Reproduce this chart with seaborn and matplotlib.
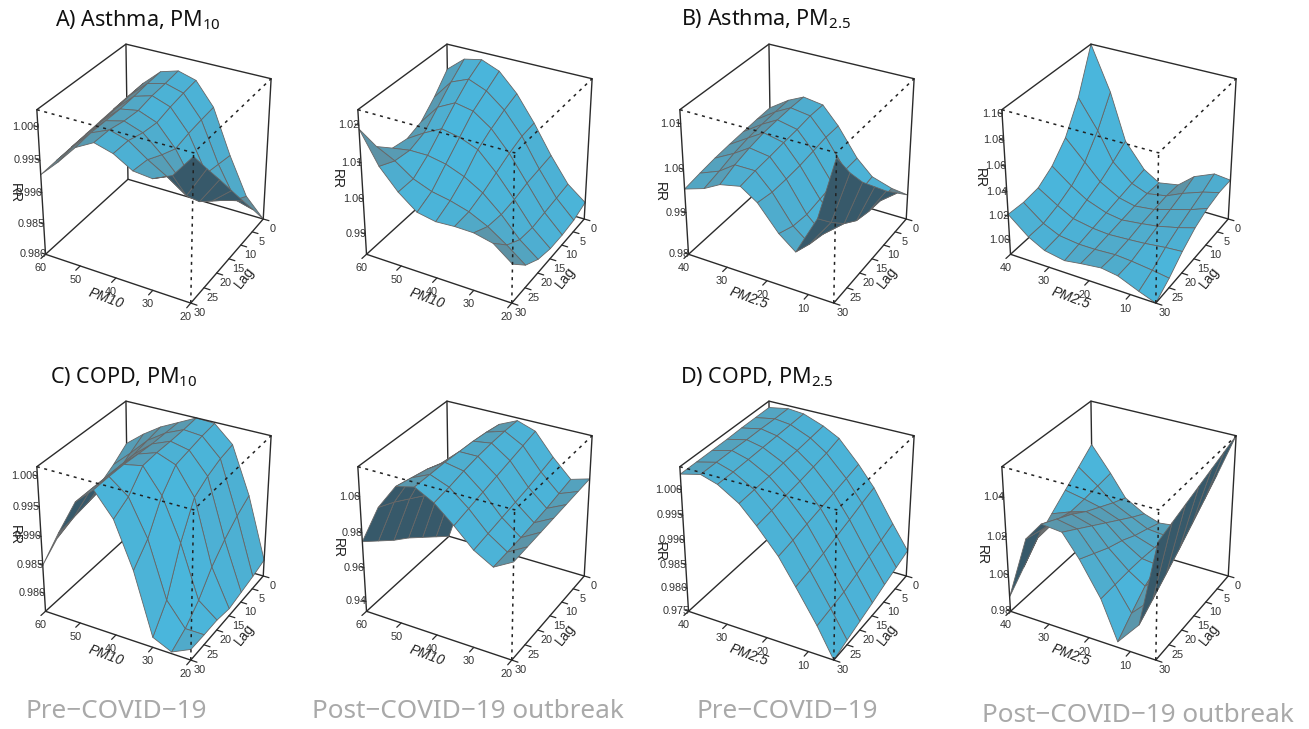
import numpy as np
import matplotlib
matplotlib.use('Agg')
import matplotlib.pyplot as plt
import matplotlib.colors as mcolors
from mpl_toolkits.mplot3d import proj3d
import seaborn as sns

# eixos dos 8 paineis
lags = [0, 5, 10, 15, 20, 25, 30]
pm10 = [20, 25, 30, 35, 40, 45, 50, 55, 60]
pm25 = [4, 8, 13, 17, 22, 26, 31, 35, 40]

lag_ticks = [0, 5, 10, 15, 20, 25, 30]
pm10_ticks = [60, 50, 40, 30, 20]
pm25_ticks = [40, 30, 20, 10]

# RR: linhas = lag, colunas = PM crescente
asthma_pm10_pre = [
    [.9800, .9830, .9890, .9960, .9995, 1.0003, .9995, .9970, .9940],
    [.9837, .9845, .9895, .9958, .9992, 1.0000, .9993, .9968, .9938],
    [.9873, .9865, .9900, .9955, .9988, .9998, .9990, .9965, .9936],
    [.9910, .9885, .9903, .9950, .9982, .9993, .9988, .9963, .9934],
    [.9947, .9905, .9930, .9960, .9985, .9995, .9988, .9962, .9932],
    [.9983, .9935, .9955, .9972, .9992, 1.0000, .9988, .9960, .9930],
    [1.0020, .9985, .9972, .9975, .9992, 1.0000, .9985, .9955, .9928],
]
asthma_pm10_post = [
    [.9890, .9930, 1.0000, 1.0080, 1.0150, 1.0200, 1.0220, 1.0210, 1.0170],
    [.9875, .9925, .9995, 1.0075, 1.0135, 1.0175, 1.0195, 1.0175, 1.0120],
    [.9870, .9920, .9990, 1.0060, 1.0115, 1.0150, 1.0160, 1.0135, 1.0080],
    [.9870, .9915, .9980, 1.0040, 1.0090, 1.0110, 1.0120, 1.0095, 1.0065],
    [.9880, .9920, .9975, 1.0020, 1.0050, 1.0070, 1.0080, 1.0080, 1.0072],
    [.9905, .9945, .9980, 1.0005, 1.0020, 1.0030, 1.0050, 1.0085, 1.0110],
    [.9950, .9990, 1.0002, 1.0003, 1.0000, 1.0010, 1.0050, 1.0105, 1.0190],
]
asthma_pm25_pre = [
    [.9860, .9865, .9880, .9915, .9980, 1.0020, 1.0027, 1.0010, .9980],
    [.9895, .9865, .9875, .9915, .9980, 1.0020, 1.0027, 1.0008, .9978],
    [.9930, .9870, .9870, .9910, .9975, 1.0015, 1.0025, 1.0005, .9975],
    [.9970, .9880, .9865, .9905, .9970, 1.0012, 1.0022, 1.0000, .9972],
    [1.0010, .9905, .9865, .9900, .9968, 1.0008, 1.0015, .9992, .9968],
    [1.0060, .9940, .9875, .9905, .9968, 1.0005, 1.0005, .9980, .9962],
    [1.0120, .9980, .9890, .9920, .9975, 1.0000, .9990, .9970, .9955],
]
asthma_pm25_post = [
    [1.0215, 1.0230, 1.0160, 1.0050, 1.0020, 1.0100, 1.0300, 1.0680, 1.1030],
    [1.0215, 1.0180, 1.0120, 1.0060, 1.0030, 1.0080, 1.0220, 1.0450, 1.0680],
    [1.0190, 1.0140, 1.0090, 1.0050, 1.0030, 1.0060, 1.0150, 1.0280, 1.0440],
    [1.0140, 1.0100, 1.0060, 1.0040, 1.0020, 1.0040, 1.0100, 1.0180, 1.0300],
    [1.0060, 1.0050, 1.0030, 1.0020, 1.0010, 1.0020, 1.0050, 1.0120, 1.0220],
    [.9960, .9980, 1.0000, 1.0010, 1.0000, 1.0000, 1.0020, 1.0080, 1.0205],
    [.9880, .9930, 1.0000, 1.0020, 1.0000, .9980, 1.0010, 1.0080, 1.0215],
]
copd_pm10_pre = [
    [.9797, .9905, .9985, 1.0013, 1.0015, 1.0000, .9985, .9965, .9941],
    [.9790, .9890, .9980, 1.0010, 1.0013, 1.0000, .9980, .9950, .9922],
    [.9785, .9870, .9970, 1.0005, 1.0012, 1.0000, .9975, .9935, .9907],
    [.9780, .9845, .9955, 1.0000, 1.0012, 1.0002, .9975, .9930, .9905],
    [.9785, .9810, .9900, .9970, 1.0010, 1.0004, .9975, .9925, .9895],
    [.9785, .9785, .9825, .9920, .9980, 1.0004, .9975, .9920, .9875],
    [.9786, .9770, .9785, .9890, .9965, 1.0003, .9975, .9915, .9850],
]
copd_pm10_post = [
    [.9920, .9890, .9990, 1.0110, 1.0145, 1.0100, .9950, .9650, .9340],
    [.9915, .9875, .9970, 1.0090, 1.0145, 1.0115, .9980, .9715, .9410],
    [.9910, .9860, .9950, 1.0070, 1.0140, 1.0125, 1.0010, .9780, .9480],
    [.9905, .9850, .9935, 1.0050, 1.0130, 1.0130, 1.0040, .9830, .9550],
    [.9900, .9840, .9920, 1.0030, 1.0115, 1.0135, 1.0070, .9880, .9610],
    [.9895, .9835, .9905, 1.0010, 1.0095, 1.0135, 1.0090, .9930, .9680],
    [.9890, .9830, .9890, .9990, 1.0080, 1.0135, 1.0110, .9970, .9750],
]
copd_pm25_pre = [
    [.9806, .9855, .9920, .9960, 1.0003, 1.0020, 1.0035, 1.0038, 1.0031],
    [.9797, .9846, .9912, .9954, .9995, 1.0017, 1.0034, 1.0038, 1.0031],
    [.9788, .9838, .9903, .9948, .9990, 1.0014, 1.0033, 1.0039, 1.0031],
    [.9778, .9829, .9895, .9942, .9985, 1.0012, 1.0032, 1.0039, 1.0030],
    [.9769, .9820, .9887, .9936, .9981, 1.0009, 1.0031, 1.0040, 1.0030],
    [.9760, .9815, .9880, .9930, .9976, 1.0007, 1.0030, 1.0040, 1.0030],
    [.9750, .9810, .9875, .9925, .9972, 1.0005, 1.0030, 1.0040, 1.0030],
]
copd_pm25_post = [
    [1.0550, 1.0330, 1.0120, 1.0000, .9987, 1.0015, 1.0075, 1.0190, 1.0320],
    [1.0525, 1.0265, 1.0090, 1.0010, 1.0020, 1.0060, 1.0110, 1.0180, 1.0255],
    [1.0500, 1.0200, 1.0055, 1.0015, 1.0050, 1.0110, 1.0150, 1.0170, 1.0190],
    [1.0475, 1.0135, 1.0015, 1.0025, 1.0090, 1.0160, 1.0190, 1.0165, 1.0125],
    [1.0450, 1.0075, .9975, 1.0030, 1.0120, 1.0210, 1.0240, 1.0185, 1.0060],
    [1.0425, 1.0015, .9905, 1.0030, 1.0160, 1.0260, 1.0280, 1.0200, .9970],
    [1.0400, .9957, .9830, 1.0030, 1.0200, 1.0310, 1.0320, 1.0220, .9880],
]

# limites e ticks de RR de cada painel
asthma_pm10_pre_lim, asthma_pm10_pre_ticks = (.980, 1.0025), [.980, .985, .990, .995, 1.000]
asthma_pm10_post_lim, asthma_pm10_post_ticks = (.984, 1.024), [.99, 1.00, 1.01, 1.02]
asthma_pm25_pre_lim, asthma_pm25_pre_ticks = (.980, 1.013), [.98, .99, 1.00, 1.01]
asthma_pm25_post_lim, asthma_pm25_post_ticks = (.988, 1.103), [1.00, 1.02, 1.04, 1.06, 1.08, 1.10]
copd_pm10_pre_lim, copd_pm10_pre_ticks = (.9767, 1.0015), [.980, .985, .990, .995, 1.000]
copd_pm10_post_lim, copd_pm10_post_ticks = (.934, 1.016), [.94, .96, .98, 1.00]
copd_pm25_pre_lim, copd_pm25_pre_ticks = (.975, 1.0044), [.975, .980, .985, .990, .995, 1.000]
copd_pm25_post_lim, copd_pm25_post_ticks = (.980, 1.055), [.98, 1.00, 1.02, 1.04]

titles = ['A) Asthma, PM$_{\\mathregular{10}}$', 'B) Asthma, PM$_{\\mathregular{2.5}}$',
          'C) COPD, PM$_{\\mathregular{10}}$', 'D) COPD, PM$_{\\mathregular{2.5}}$']
periods = ['Pre\u2212COVID\u221219', 'Post\u2212COVID\u221219 outbreak',
           'Pre\u2212COVID\u221219', 'Post\u2212COVID\u221219 outbreak']

sns.set_theme(style='white')
plt.rcParams['font.family'] = ['Liberation Sans', 'DejaVu Sans']

W, H = 1309, 729
fig = plt.figure(figsize=(W / 100, H / 100), dpi=100, facecolor='white')

ELEV, AZIM = 31, -61
ASPECT = (1, 1, 1.0)
CYAN = mcolors.to_rgb('#4ab6dc')
GREY = mcolors.to_rgb('#6e6e6e')
DARK = mcolors.to_rgb('#37596a')
S = 360
ZOOM = 0.775
FOCAL = 0.6
PX = 0.72  # pixels para pontos


def cell_colors(x, y, z, xlim, ylim, zlim):
    # sombra de cada celula a partir da normal no espaco da caixa
    u = (np.asarray(x, float) - xlim[0]) / (xlim[1] - xlim[0])
    v = (np.asarray(y, float) - ylim[0]) / (ylim[1] - ylim[0])
    w = (np.asarray(z, float) - zlim[0]) / (zlim[1] - zlim[0]) * ASPECT[2]
    dzu = (w[:-1, 1:] + w[1:, 1:] - w[:-1, :-1] - w[1:, :-1]) / 2 / (u[1:] - u[:-1])
    dzv = ((w[1:, :-1] + w[1:, 1:] - w[:-1, :-1] - w[:-1, 1:]) / 2).T / (v[1:] - v[:-1])
    dzv = dzv.T
    n = np.dstack([-dzu, -dzv, np.ones_like(dzu)])
    n /= np.linalg.norm(n, axis=2, keepdims=True)
    e, a = np.radians(ELEV), np.radians(AZIM)
    view = np.array([np.cos(e) * np.cos(a), np.cos(e) * np.sin(a), np.sin(e)])
    facing = n @ view
    out = np.zeros(facing.shape + (4,))
    for i, j in np.ndindex(facing.shape):
        f = facing[i, j]
        if f >= 0:
            t = (1 - f) ** 2.5
            col = np.array(CYAN) * (1 - t) + np.array(GREY) * t
        else:
            col = np.array(DARK)
        out[i, j] = [*col, 1]
    return out


def label3d(ax, x, y, z, s, ox, oy, ha='center'):
    # texto 2D no ponto projetado, com deslocamento em pixels
    xp, yp, _ = proj3d.proj_transform(x, y, z, ax.get_proj())
    ax.annotate(s, xy=(xp, yp), xycoords='data', xytext=(ox * PX, -oy * PX),
                textcoords='offset points', fontsize=7.8, color='#333333',
                ha=ha, va='center', annotation_clip=False, zorder=4)


def draw_panel(dx, dy, pm, pm_ticks, pm_lim, pm_name, rr, zlim, zticks, rr_pos):
    left = (152 + dx - S / 2) / W
    bottom = 1 - (172.5 + dy + S / 2) / H
    ax = fig.add_axes([left, bottom, S / W, S / H], projection='3d', computed_zorder=False)
    ax.set_proj_type('persp', focal_length=FOCAL)
    ax.view_init(elev=ELEV, azim=AZIM)
    ax.set_box_aspect(ASPECT, zoom=ZOOM)
    ax.set_xlim(pm_lim[1], pm_lim[0])
    ax.set_ylim(30, 0)
    ax.set_zlim(*zlim)
    ax.set_axis_off()
    ax.patch.set_alpha(0)

    x0, x1 = pm_lim[1], pm_lim[0]
    y0, y1 = 30, 0
    z0, z1 = zlim

    # caixa: parte de tras continua
    back = dict(color='#2b2b2b', lw=1.0, zorder=1)
    ax.plot([x0, x0, x1], [y0, y1, y1], [z0, z0, z0], **back)
    ax.plot([x0, x0], [y1, y1], [z0, z1], **back)

    X, Y = np.meshgrid(pm, lags)
    colors = cell_colors(pm, lags, rr, (x0, x1), (y0, y1), zlim)
    ax.plot_surface(X, Y, np.array(rr), facecolors=colors, rstride=1, cstride=1,
                    edgecolor='#666666', linewidth=0.6, shade=False, antialiased=True, zorder=2)

    front = dict(color='#2b2b2b', lw=1.0, zorder=3)
    ax.plot([x0, x0, x1], [y0, y1, y1], [z1, z1, z1], **front)
    ax.plot([x0, x0], [y0, y0], [z0, z1], **front)
    ax.plot([x1, x1], [y1, y1], [z0, z1], **front)
    ax.plot([x0, x1, x1], [y0, y0, y1], [z0, z0, z0], **front)
    # frente pontilhada
    dots = dict(color='#222222', lw=1.1, ls=(0, (2, 3)), zorder=3)
    ax.plot([x0, x1, x1], [y0, y0, y1], [z1, z1, z1], **dots)
    ax.plot([x1, x1], [y0, y0], [z0, z1], **dots)

    # ticks
    sx, sy = x1 - x0, y1 - y0
    tick = dict(color='#2b2b2b', lw=0.9, zorder=3)
    for t in pm_ticks:
        ax.plot([t, t], [y0, y0 - 0.05 * sy], [z0, z0], **tick)
        label3d(ax, t, y0, z0, str(t), -5, 14)
    for t in lag_ticks:
        ax.plot([x1, x1 + 0.04 * sx], [t, t], [z0, z0], **tick)
        label3d(ax, x1, t, z0, str(t), 9, 10)
    decimals = 3 if zticks[1] - zticks[0] < 0.009 else 2
    for t in zticks:
        ax.plot([x0, x0 - 0.025 * sx], [y0, y0], [t, t], **tick)
        label3d(ax, x0, y0, t, f'{t:.{decimals}f}', 1, 0, ha='right')

    # rotulos dos eixos
    lab = dict(fontsize=10, color='#222222', ha='center', va='center')
    fig.text((106 + dx) / W, 1 - (298 + dy) / H, pm_name, rotation=-20, style='italic', **lab)
    fig.text((245 + dx) / W, 1 - (278 + dy) / H, 'Lag', rotation=52, **lab)
    fig.text(rr_pos[0] / W, 1 - rr_pos[1] / H, 'RR', rotation=-90, **lab)


Y2 = 357
draw_panel(0, 0, pm10, pm10_ticks, (20, 60), 'PM10', asthma_pm10_pre,
           asthma_pm10_pre_lim, asthma_pm10_pre_ticks, (15, 193))
draw_panel(321, 0, pm10, pm10_ticks, (20, 60), 'PM10', asthma_pm10_post,
           asthma_pm10_post_lim, asthma_pm10_post_ticks, (337, 179))
draw_panel(643, 0, pm25, pm25_ticks, (4, 40), 'PM2.5', asthma_pm25_pre,
           asthma_pm25_pre_lim, asthma_pm25_pre_ticks, (660, 192))
draw_panel(965, 0, pm25, pm25_ticks, (4, 40), 'PM2.5', asthma_pm25_post,
           asthma_pm25_post_lim, asthma_pm25_post_ticks, (980, 178))
draw_panel(0, Y2, pm10, pm10_ticks, (20, 60), 'PM10', copd_pm10_pre,
           copd_pm10_pre_lim, copd_pm10_pre_ticks, (15, 535))
draw_panel(321, Y2, pm10, pm10_ticks, (20, 60), 'PM10', copd_pm10_post,
           copd_pm10_post_lim, copd_pm10_post_ticks, (338, 548))
draw_panel(643, Y2, pm25, pm25_ticks, (4, 40), 'PM2.5', copd_pm25_pre,
           copd_pm25_pre_lim, copd_pm25_pre_ticks, (660, 552))
draw_panel(965, Y2, pm25, pm25_ticks, (4, 40), 'PM2.5', copd_pm25_post,
           copd_pm25_post_lim, copd_pm25_post_ticks, (982, 555))

# titulos e legendas de baixo
for s, px, py in zip(titles, [55, 681, 50, 680], [20, 19, 377, 377]):
    fig.text(px / W, 1 - py / H, s, fontsize=15.5, color='#111111', ha='left', va='center',
             family=['Noto Sans', 'DejaVu Sans'])
for s, px, py in zip(periods, [116, 468, 787, 1138], [711, 712, 711, 715]):
    fig.text(px / W, 1 - py / H, s, fontsize=18.8, color='#a9a9a9', ha='center', va='center',
             family=['Noto Sans', 'DejaVu Sans'])

fig.savefig('out.png', dpi=100, facecolor='white')
